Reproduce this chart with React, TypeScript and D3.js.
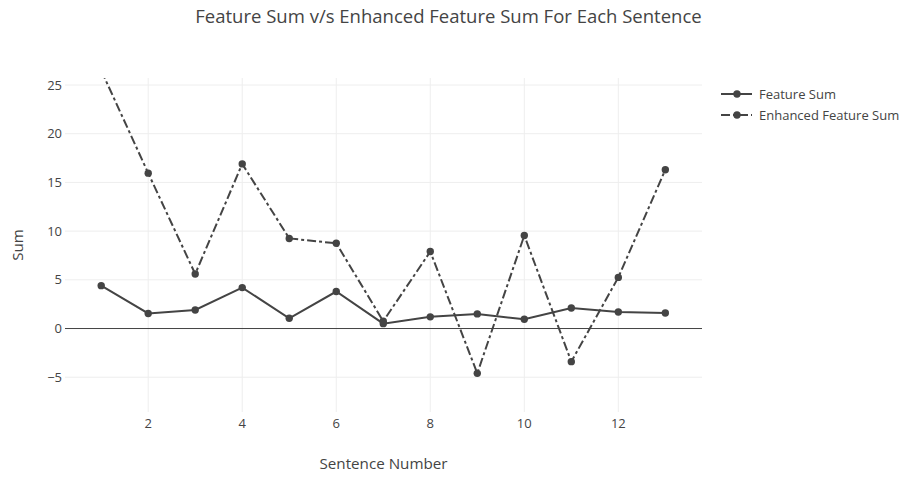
import React from "react";
import * as d3 from "d3";

const sentences = [1, 2, 3, 4, 5, 6, 7, 8, 9, 10, 11, 12, 13];
const featureSum = [4.4, 1.55, 1.9, 4.2, 1.05, 3.8, 0.5, 1.2, 1.5, 0.95, 2.1, 1.7, 1.6];
const enhancedSum = [26.5, 15.95, 5.6, 16.9, 9.25, 8.75, 0.75, 7.9, -4.6, 9.55, -3.4, 5.25, 16.3];
const xTicks = [2, 4, 6, 8, 10, 12];
const yTicks = [-5, 0, 5, 10, 15, 20, 25];
const seriesNames = ["Feature Sum", "Enhanced Feature Sum"];

const W = 902;
const H = 477;
const left = 65;
const right = 702;
const top = 78;
const bottom = 412;
const FONT = "'Open Sans', 'Noto Sans', sans-serif";
const TXT = "#444";
const LINE = "#444";
const DASH = "9,3,3,3";

export default function App() {
  const x = d3.scaleLinear().domain([0.23, 13.78]).range([left, right]);
  const y = d3.scaleLinear().domain([-8.57, 25.72]).range([bottom, top]);
  const line = d3
    .line<number>()
    .x((_, i) => x(sentences[i]))
    .y((d) => y(d));

  return (
    <svg
      width={W}
      height={H}
      style={{ position: "absolute", left: 0, top: 0, background: "#fff" }}
      fontFamily={FONT}
    >
      <defs>
        <clipPath id="plotclip">
          <rect x={left} y={top} width={right - left} height={bottom - top} />
        </clipPath>
      </defs>
      <text x={448.5} y={23} textAnchor="middle" fontSize={18.5} fill={TXT}>
        Feature Sum v/s Enhanced Feature Sum For Each Sentence
      </text>
      {/* grid */}
      {xTicks.map((t) => (
        <line key={"gx" + t} x1={x(t)} x2={x(t)} y1={top} y2={bottom} stroke="#eee" strokeWidth={1} />
      ))}
      {yTicks
        .filter((t) => t !== 0)
        .map((t) => (
          <line key={"gy" + t} x1={left} x2={right} y1={y(t)} y2={y(t)} stroke="#eee" strokeWidth={1} />
        ))}
      <line x1={left} x2={right} y1={y(0)} y2={y(0)} stroke={TXT} strokeWidth={1} />
      {/* tick labels */}
      {xTicks.map((t) => (
        <text key={"tx" + t} x={x(t)} y={428} textAnchor="middle" fontSize={13} fill={TXT}>
          {t}
        </text>
      ))}
      {yTicks.map((t) => (
        <text key={"ty" + t} x={62} y={y(t) + 4.5} textAnchor="end" fontSize={13} fill={TXT}>
          {t < 0 ? "\u2212" + Math.abs(t) : t}
        </text>
      ))}
      <text x={(left + right) / 2} y={469} textAnchor="middle" fontSize={15.2} fill={TXT}>
        Sentence Number
      </text>
      <text
        transform={`translate(23,${(top + bottom) / 2}) rotate(-90)`}
        textAnchor="middle"
        fontSize={15.2}
        fill={TXT}
      >
        Sum
      </text>
      {/* series */}
      <g clipPath="url(#plotclip)">
        <path d={line(featureSum) || ""} fill="none" stroke={LINE} strokeWidth={2} />
        {featureSum.map((v, i) => (
          <circle key={"f" + i} cx={x(sentences[i])} cy={y(v)} r={3.7} fill={LINE} />
        ))}
        <path d={line(enhancedSum) || ""} fill="none" stroke={LINE} strokeWidth={2} strokeDasharray={DASH} />
        {enhancedSum.map((v, i) => (
          <circle key={"e" + i} cx={x(sentences[i])} cy={y(v)} r={3.7} fill={LINE} />
        ))}
      </g>
      {/* legend */}
      {seriesNames.map((name, i) => {
        const ly = 94 + i * 21;
        return (
          <g key={name}>
            <line
              x1={721}
              x2={752}
              y1={ly}
              y2={ly}
              stroke={LINE}
              strokeWidth={2}
              strokeDasharray={i === 1 ? DASH : undefined}
            />
            <circle cx={737} cy={ly} r={3.7} fill={LINE} />
            <text x={759} y={ly + 4.5} fontSize={13} fill={TXT}>
              {name}
            </text>
          </g>
        );
      })}
    </svg>
  );
}
